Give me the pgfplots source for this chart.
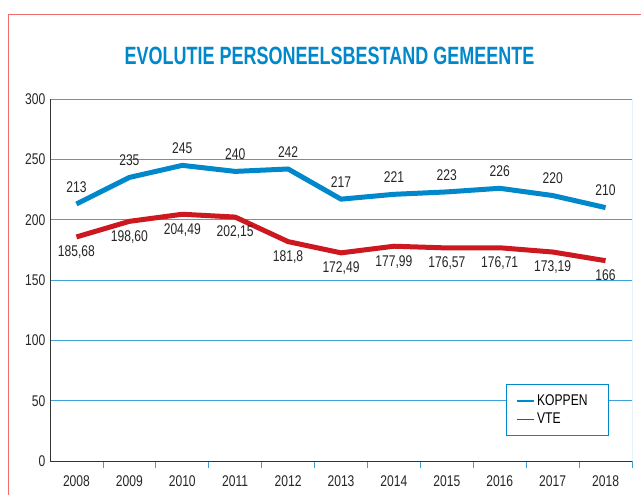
\documentclass[border=0pt]{standalone}
\usepackage{pgfplots}
\pgfplotsset{compat=1.18}
\usepackage{pgfplotstable}
\usepackage{fontspec}
\setmainfont{Liberation Sans}[FakeStretch=0.78]
\newfontfamily\titlefont{Liberation Sans}[FakeStretch=0.72]
\definecolor{kblue}{RGB}{0,136,202}
\definecolor{vred}{RGB}{205,24,32}
\definecolor{gridblue}{RGB}{60,162,215}
\definecolor{framered}{RGB}{240,110,110}
\newcommand{\lblfont}{\fontsize{15.5bp}{18bp}\selectfont}

\pgfplotstableread{
x k kl v vl
0 213 213 185.68 185,68
1 235 235 198.60 198,60
2 245 245 204.49 204,49
3 240 240 202.15 202,15
4 242 242 181.8 181,8
5 217 217 172.49 172,49
6 221 221 177.99 177,99
7 223 223 176.57 176,57
8 226 226 176.71 176,71
9 220 220 173.19 173,19
10 210 210 166 166
}\data

\begin{document}
\begin{tikzpicture}[font=\lblfont]
\path[use as bounding box] (0,0) rectangle (641bp,495bp);
\draw[framered, line width=0.8bp] (8bp,-2bp) -- (8bp,481bp) -- (645bp,481bp);
\node[text=kblue, font=\titlefont\bfseries\fontsize{25bp}{30bp}\selectfont] at (329.5bp,439bp) {EVOLUTIE PERSONEELSBESTAND GEMEENTE};
\begin{axis}[
  at={(50bp,34bp)}, anchor=south west,
  scale only axis, width=582bp, height=362bp,
  xmin=-0.5, xmax=10.5, ymin=0, ymax=300,
  axis x line*=bottom, axis y line*=left,
  axis line style={draw=black!80, line width=1bp, -},
  xtick={0,...,10},
  xticklabels={2008,2009,2010,2011,2012,2013,2014,2015,2016,2017,2018},
  minor xtick={0.5,1.5,...,10.5},
  major x tick style={draw=none},
  minor x tick style={draw=gridblue, line width=0.8bp},
  tick align=outside, minor tick length=7bp, major tick length=0pt,
  ytick={0,50,...,300}, y tick style={draw=none},
  ymajorgrids, grid style={gridblue, line width=0.8bp},
  /pgf/number format/assume math mode=true,
  tick label style={font=\lblfont, text=black!85},
  xticklabel style={anchor=north, inner sep=0pt, yshift=-14.5bp},
  yticklabel style={anchor=east, inner sep=0pt, xshift=-4.5bp},
  legend style={at={(0.9605,0.2127)}, anchor=north east,
    fill=white, font=\lblfont, inner xsep=10bp, inner ysep=8.5bp,
    row sep=2bp, draw=kblue, line width=0.9bp},
  legend cell align=left,
  legend image post style={line width=1.4bp},
]
\draw[gridblue, line width=1bp] (rel axis cs:1,0) -- (rel axis cs:1,1);
\addplot[color=kblue, line width=5bp, line join=round,
  nodes near coords, point meta=explicit symbolic,
  every node near coord/.style={anchor=south, inner sep=0pt, yshift=9bp, text=black!85, font=\lblfont}]
  table[x=x, y=k, meta=kl] {\data};
\addlegendentry{KOPPEN\rule{9bp}{0pt}}
\addplot[color=vred, line width=5bp, line join=round,
  nodes near coords, point meta=explicit symbolic,
  every node near coord/.style={anchor=north, inner sep=0pt, yshift=-6.5bp, text=black!85, font=\lblfont}]
  table[x=x, y=v, meta=vl] {\data};
\addlegendentry{VTE}
\end{axis}
\end{tikzpicture}
\end{document}
